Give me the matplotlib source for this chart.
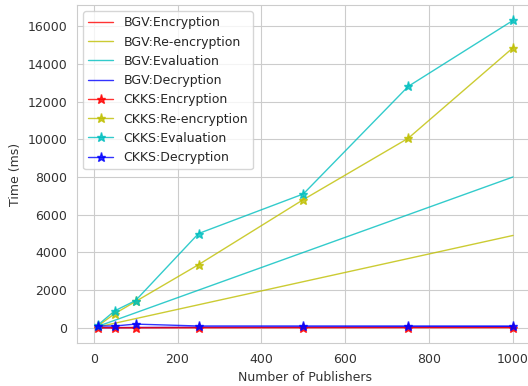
import matplotlib
matplotlib.use("Agg")
import matplotlib.pyplot as plt
import seaborn as sns

sns.set_style("whitegrid")
plt.rcParams['font.family'] = ['DejaVu Sans']

publishers = [10, 50, 100, 250, 500, 750, 1000]

bgv_encryption = [5, 10, 15, 20, 25, 30, 35]
bgv_reencryption = [50, 245, 490, 1225, 2450, 3675, 4900]
bgv_evaluation = [80, 400, 800, 2000, 4000, 6000, 8000]
bgv_decryption = [10, 15, 20, 30, 40, 50, 60]

ckks_encryption = [20, 10, 10, 10, 10, 10, 10]
ckks_reencryption = [100, 750, 1400, 3350, 6800, 10050, 14850]
ckks_evaluation = [150, 900, 1450, 5000, 7100, 12800, 16300]
ckks_decryption = [100, 100, 200, 100, 100, 100, 100]

fig = plt.figure(figsize=(5.28, 3.86), dpi=100)
ax = fig.add_axes([0.146, 0.111, 0.865, 0.876])

lw = 1.0
a = 0.8
ms = 6.5
ax.plot(publishers, bgv_encryption, color='r', lw=lw, alpha=a, label='BGV:Encryption')
ax.plot(publishers, bgv_reencryption, color='y', lw=lw, alpha=a, label='BGV:Re-encryption')
ax.plot(publishers, bgv_evaluation, color='c', lw=lw, alpha=a, label='BGV:Evaluation')
ax.plot(publishers, bgv_decryption, color='b', lw=lw, alpha=a, label='BGV:Decryption')
ax.plot(publishers, ckks_encryption, color='r', marker='*', ms=ms, lw=lw, alpha=a, label='CKKS:Encryption')
ax.plot(publishers, ckks_reencryption, color='y', marker='*', ms=ms, lw=lw, alpha=a, label='CKKS:Re-encryption')
ax.plot(publishers, ckks_evaluation, color='c', marker='*', ms=ms, lw=lw, alpha=a, label='CKKS:Evaluation')
ax.plot(publishers, ckks_decryption, color='b', marker='*', ms=ms, lw=lw, alpha=a, label='CKKS:Decryption')

ax.set_xlabel('Number of Publishers', fontsize=9, color='#333333')
ax.set_ylabel('Time (ms)', fontsize=9, color='#333333')
ax.tick_params(labelsize=9, colors='#333333')
ax.legend(loc='upper left', fontsize=9, frameon=True)

fig.savefig('out.png', dpi=100)
